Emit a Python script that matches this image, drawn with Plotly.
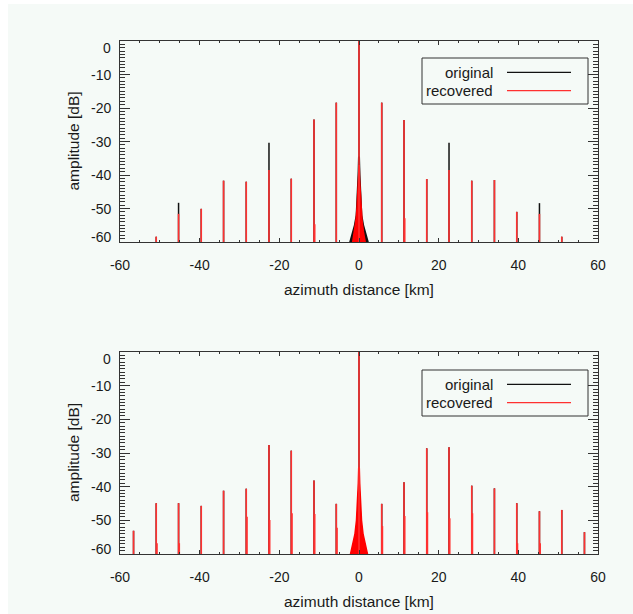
import plotly.graph_objects as go

W, H = 633, 614

# ---------------- data ----------------
spike_km = [-56.6, -50.9, -45.3, -39.6, -34.0, -28.3, -22.6, -17.0, -11.3, -5.7,
            0.0, 5.7, 11.3, 17.0, 22.6, 28.3, 34.0, 39.6, 45.3, 50.9, 56.6]

# top panel
top_original = [None, -58.4, -48.3, -50.1, -41.7, -42.0, -30.4, -41.1, -23.4, -18.4,
                0.0, -18.4, -23.6, -41.2, -30.4, -41.7, -41.5, -51.0, -48.4, -58.4, None]
top_recovered = [None, -58.4, -51.6, -50.1, -41.7, -42.0, -38.5, -41.1, -23.4, -18.4,
                 0.0, -18.4, -23.6, -41.2, -38.5, -41.7, -41.5, -51.0, -51.6, -58.4, None]
top_recovered_side = [None, None, None, None, None, None, None, None, -54.7, None,
                      None, None, -52.9, None, None, None, None, None, None, None, None]

# main-lobe envelopes (offset km, dB)
top_orig_lobe_km = [-2.7, -1.9, -1.3, -0.85, -0.55, -0.38, -0.25, 0.25, 0.38, 0.55, 0.85, 1.3, 1.9, 2.7]
top_orig_lobe_db = [-61.0, -57.5, -55.0, -52.0, -46.0, -40.0, -34.5, -34.5, -40.0, -46.0, -52.0, -55.0, -57.5, -61.0]
top_rec_lobe_km = [-1.7, -1.1, -0.75, -0.5, -0.3, -0.12, -0.04, 0.04, 0.12, 0.3, 0.5, 0.75, 1.1, 1.7]
top_rec_lobe_db = [-61.0, -57.0, -53.5, -50.0, -45.0, -41.0, -37.0, -37.0, -41.0, -45.0, -50.0, -53.5, -57.0, -61.0]

# bottom panel
bot_recovered = [-53.1, -44.9, -44.9, -45.7, -41.2, -40.6, -27.6, -29.3, -38.2, -45.1,
                 0.0, -45.1, -38.7, -28.6, -28.3, -39.7, -40.5, -44.9, -47.3, -46.9, -53.5]
bot_original = list(bot_recovered)
bot_recovered_side = [None, -56.8, -56.8, None, None, -48.9, -49.9, -47.9, -48.1, -52.2,
                      None, -51.7, -48.7, -47.6, -49.4, -47.9, None, -56.8, -56.8, None, None]
bot_lobe_km = [-2.3, -1.6, -1.0, -0.62, -0.35, -0.16, -0.06, 0.06, 0.16, 0.35, 0.62, 1.0, 1.6, 2.3]
bot_lobe_db = [-61.0, -57.0, -54.0, -50.0, -45.0, -39.0, -34.5, -34.5, -39.0, -45.0, -50.0, -54.0, -57.0, -61.0]

x_ticks = [-60, -40, -20, 0, 20, 40, 60]
x_tick_text = ["-60", "-40", "-20", "0", "20", "40", "60"]
y_ticks = [0, -10, -20, -30, -40, -50, -60]
y_tick_text = ["0", "-10", "-20", "-30", "-40", "-50", "-60"]
legend_names = ["original", "recovered"]

FLOOR = -62.0
RED = "#ff3030"
BLACK = "#111111"
TINT = "#f5faf7"
FONT = "Liberation Sans, Arial, Helvetica, sans-serif"
TXT = "#1a1a1a"


def px(x):      # screen x pixel -> paper fraction
    return x / W


def py(y):      # screen y pixel -> paper fraction
    return 1 - y / H


def spikes(pos, vals, shift=0.0):
    xs, ys = [], []
    for p, v in zip(pos, vals):
        if v is None:
            continue
        xs += [p + shift, p + shift, None]
        ys += [FLOOR, v, None]
    return xs, ys


fig = go.Figure()


def add_panel(xa, ya, orig, rec, side, olobe, rlobe):
    x, y = spikes(spike_km, orig)
    fig.add_trace(go.Scatter(x=x, y=y, mode="lines", line=dict(color=BLACK, width=1.5),
                             xaxis=xa, yaxis=ya, showlegend=False, hoverinfo="skip"))
    fig.add_trace(go.Scatter(x=olobe[0], y=olobe[1], mode="lines", fill="toself",
                             fillcolor=BLACK, line=dict(color=BLACK, width=0),
                             xaxis=xa, yaxis=ya, showlegend=False, hoverinfo="skip"))
    fig.add_trace(go.Scatter(x=rlobe[0], y=rlobe[1], mode="lines", fill="toself",
                             fillcolor="#ff0000", line=dict(color="#ff0000", width=1.6),
                             xaxis=xa, yaxis=ya, showlegend=False, hoverinfo="skip"))
    x, y = spikes(spike_km, rec)
    fig.add_trace(go.Scatter(x=x, y=y, mode="lines", line=dict(color=RED, width=1.6),
                             xaxis=xa, yaxis=ya, showlegend=False, hoverinfo="skip"))
    x, y = spikes(spike_km, side, shift=0.18)
    fig.add_trace(go.Scatter(x=x, y=y, mode="lines", line=dict(color=RED, width=1.6),
                             xaxis=xa, yaxis=ya, showlegend=False, hoverinfo="skip"))


add_panel("x", "y", top_original, top_recovered, top_recovered_side,
          (top_orig_lobe_km, top_orig_lobe_db), (top_rec_lobe_km, top_rec_lobe_db))
add_panel("x2", "y2", bot_original, bot_recovered, bot_recovered_side,
          (bot_lobe_km, bot_lobe_db), (bot_lobe_km, bot_lobe_db))

xdom = [px(120), px(598)]
ydom_top = [py(242), py(41)]
ydom_bot = [py(554), py(352)]

axis_common = dict(showline=True, linecolor="#333333", linewidth=1, mirror="ticks",
                   showgrid=False, zeroline=False, ticks="inside", tickcolor="#333333",
                   tickwidth=1, automargin=False)

xcommon = dict(axis_common, range=[-60, 60], tickvals=x_ticks, ticktext=x_tick_text,
               ticklen=4, tickfont=dict(family=FONT, size=14, color=TXT),
               ticklabelstandoff=10,
               minor=dict(ticks="inside", dtick=5, ticklen=2, tickcolor="#333333"))
ycommon = dict(axis_common, range=[-60, 0], tickvals=y_ticks, ticklen=10,
               showticklabels=False,
               minor=dict(ticks="inside", dtick=1, ticklen=5, tickcolor="#333333"))

fig.update_layout(
    width=W, height=H, autosize=False,
    margin=dict(l=0, r=0, t=0, b=0, pad=0, autoexpand=False),
    paper_bgcolor=TINT,
    plot_bgcolor="rgba(0,0,0,0)",
    xaxis=dict(xcommon, domain=xdom, anchor="y"),
    yaxis=dict(ycommon, domain=ydom_top, anchor="x"),
    xaxis2=dict(xcommon, domain=xdom, anchor="y2"),
    yaxis2=dict(ycommon, domain=ydom_bot, anchor="x2"),
    showlegend=False,
)

shapes = [dict(type="rect", xref="paper", yref="paper", x0=0, x1=1, y0=py(4), y1=1,
               fillcolor="#ffffff", line=dict(width=0), layer="below"),
          dict(type="rect", xref="paper", yref="paper", x0=0, x1=px(8), y0=0, y1=1,
               fillcolor="#ffffff", line=dict(width=0), layer="below")]
ann = []

for yref, dom, leg_top in (("y", ydom_top, 58), ("y2", ydom_bot, 370)):
    # y tick labels
    for v, t in zip(y_ticks, y_tick_text):
        shift = -7 if v == 0 else (5 if v == -60 else 0)
        ann.append(dict(xref="paper", yref=yref, x=px(113), y=v, text=t, showarrow=False,
                        xanchor="right", yanchor="middle", yshift=shift,
                        font=dict(family=FONT, size=14, color=TXT)))
    # axis titles
    ann.append(dict(xref="paper", yref="paper", x=px(73), y=(dom[0] + dom[1]) / 2,
                    text="amplitude [dB]", textangle=-90, showarrow=False,
                    xanchor="center", yanchor="middle",
                    font=dict(family=FONT, size=15.5, color=TXT)))
    bottom_px = (1 - dom[0]) * H
    ann.append(dict(xref="paper", yref="paper", x=px(359), y=py(bottom_px + 47),
                    text="azimuth distance [km]", showarrow=False,
                    xanchor="center", yanchor="middle",
                    font=dict(family=FONT, size=15.5, color=TXT)))
    # legend box
    shapes.append(dict(type="rect", xref="paper", yref="paper",
                       x0=px(422), x1=px(588), y0=py(leg_top + 46), y1=py(leg_top),
                       line=dict(color="#333333", width=1), fillcolor="rgba(0,0,0,0)"))
    for i, (name, col) in enumerate(zip(legend_names, [BLACK, RED])):
        yy = leg_top + 14.3 + i * 18.4
        ann.append(dict(xref="paper", yref="paper", x=px(495), y=py(yy), text=name,
                        showarrow=False, xanchor="right", yanchor="middle",
                        font=dict(family=FONT, size=15, color=TXT)))
        shapes.append(dict(type="line", xref="paper", yref="paper", x0=px(507), x1=px(571),
                           y0=py(yy), y1=py(yy), line=dict(color=col, width=1.3)))

fig.update_layout(shapes=shapes, annotations=ann)

post = ("document.body.style.margin='0';document.body.style.padding='0';"
        "document.body.style.overflow='hidden';")
fig.write_html("out.html", config={"responsive": False, "displayModeBar": False},
               post_script=post)
